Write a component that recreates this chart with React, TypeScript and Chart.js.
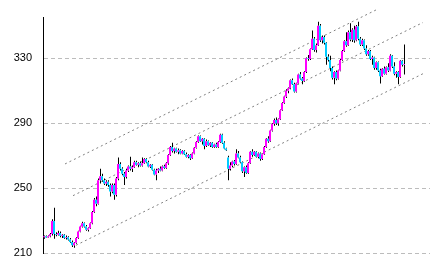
import React, { useEffect, useRef } from "react";
import { Chart, registerables } from "chart.js";

Chart.register(...registerables);

const OPEN = [
  220, 220.5, 219.8, 220.6, 222, 230, 222, 221.5, 222.5, 220.8,
  221.5, 219.5, 220, 218.5, 217, 215, 216.5, 219.5, 223.5, 226.5,
  228.5, 226.5, 224.5, 225.5, 228.5, 235.5, 243, 240.5, 255, 257.5,
  255, 253, 254, 252, 248, 252, 246, 256, 265, 262,
  259, 257, 261, 263.5, 262, 263, 266, 264.5, 265.5, 264,
  265.5, 268, 266, 263.5, 264.5, 261.5, 258.5, 261, 262, 261,
  263.5, 262.5, 265.5, 270.5, 275.5, 273, 274.5, 272.5, 273.5, 271.5,
  273, 271, 269.5, 270.5, 268.5, 271.5, 275, 278.5, 282, 279,
  280.5, 276, 279, 276.5, 278, 275.5, 277, 275.5, 278.5, 283,
  278, 274.5, 269, 262, 264, 266.5, 265, 271.5, 269, 266,
  260.5, 263, 259.5, 265.5, 272.5, 270.5, 272.5, 269.5, 271.5, 268,
  271, 275.5, 280.5, 279, 285.5, 289.5, 292, 290, 292.5, 298,
  302.5, 306.5, 310, 311.5, 316.5, 314, 309.5, 314.5, 320, 317.5,
  316, 321.5, 330, 329.5, 335.5, 342, 335, 338, 350, 341,
  343, 339.5, 331, 329, 324, 318, 321.5, 317.5, 322.5, 329,
  334.5, 340.5, 338, 346, 341.5, 347.5, 341, 349.5, 342, 338.5,
  341, 336, 332.5, 334.5, 329.5, 330.5, 324, 327.5, 322.5, 319,
  323.5, 320.5, 324.5, 322.5, 331.5, 325, 320.5, 321.5, 318.5, 328.5,
  326,
];

const HIGH = [
  221, 221, 221, 222.5, 231, 238, 223, 224, 223.5, 222,
  222, 221, 220.5, 219.5, 218, 217, 220, 224, 227, 229.5,
  229, 227.5, 226, 229, 236, 244, 245, 256, 262, 259,
  256, 255, 255, 253, 253, 253, 257, 269, 266, 263,
  260, 262, 264, 269.5, 264, 267, 267, 266, 266.5, 269,
  268.5, 268.5, 267, 265, 265, 262, 262, 262.5, 263.5, 264,
  264.5, 266, 271, 276, 278, 275, 275, 274.5, 274, 273.5,
  273.5, 272, 271, 271, 272, 275.5, 279, 282.5, 282.5, 281,
  281, 280, 279.5, 278.5, 278.5, 277.5, 278, 279, 283.5, 283.5,
  279, 275, 270, 266, 267, 267.5, 274, 273, 270, 266.5,
  263.5, 264, 266, 273, 274, 273, 273, 272, 272, 271.5,
  276, 281, 282, 286, 290, 293, 293.5, 293, 298.5, 303,
  307, 311, 312, 317, 317.5, 315, 315, 320.5, 321.5, 318.5,
  322, 330.5, 332, 336, 347, 343, 339, 352.5, 351, 344,
  344, 340, 332.5, 331.5, 325, 322, 322.5, 323, 329.5, 335,
  341, 346, 347, 351.5, 348.5, 350, 350.5, 352.5, 343, 342,
  341.5, 338, 335, 335, 331.5, 331, 328, 328, 323.5, 324,
  325, 325, 327, 332.5, 332, 327.5, 322, 322, 329, 329,
  338.5,
];

const LOW = [
  219, 219.5, 219.5, 220, 221, 219, 220.5, 221, 220, 219.5,
  219, 218.5, 218, 216.5, 214, 213.5, 216, 219, 223, 226,
  226, 224, 223.5, 225, 228, 235, 239, 240, 253, 254,
  252, 251.5, 251, 245, 247, 243, 245, 255, 261, 258,
  252, 256, 260, 261, 260, 262.5, 264, 263, 263.5, 263.5,
  265, 265.5, 263, 262.5, 261, 258, 255, 259.5, 260.5, 260.5,
  262, 262, 264.5, 270, 272, 271.5, 272, 271, 271, 271,
  270.5, 269, 268.5, 267.5, 268, 271, 274.5, 278, 278.5, 277,
  274, 275.5, 276, 275.5, 275, 275, 275, 275, 278, 277.5,
  274, 273, 255, 261, 263, 264, 264.5, 268.5, 265.5, 259.5,
  257, 259, 259, 265, 269.5, 270, 269, 268.5, 267, 267.5,
  270.5, 275, 278, 278.5, 285, 288.5, 289, 288.5, 292, 297.5,
  302, 305.5, 308.5, 311, 313.5, 309, 309, 314, 317, 314,
  315.5, 321, 328.5, 329, 335, 334, 333.5, 337.5, 340, 339,
  338.5, 326, 328, 322, 317, 314, 316.5, 317, 322, 328.5,
  334, 337, 337.5, 340.5, 340, 339.5, 340.5, 341, 337.5, 337.5,
  335, 331.5, 331.5, 329, 326, 323, 323, 321.5, 314.5, 318.5,
  320, 320, 321.5, 322, 324, 319.5, 318, 314, 318, 325,
  320,
];

const CLOSE = [
  220.5, 219.8, 220.6, 222, 230, 222, 221.5, 222.5, 220.8, 221.5,
  219.5, 220, 218.5, 217, 215, 216.5, 219.5, 223.5, 226.5, 228.5,
  226.5, 224.5, 225.5, 228.5, 235.5, 243, 240.5, 255, 257.5, 255,
  253, 254, 252, 248, 252, 246, 256, 265, 262, 259,
  257, 261, 263.5, 262, 263, 266, 264.5, 265.5, 264, 265.5,
  268, 266, 263.5, 264.5, 261.5, 258.5, 261, 262, 261, 263.5,
  262.5, 265.5, 270.5, 275.5, 273, 274.5, 272.5, 273.5, 271.5, 273,
  271, 269.5, 270.5, 268.5, 271.5, 275, 278.5, 282, 279, 280.5,
  276, 279, 276.5, 278, 275.5, 277, 275.5, 278.5, 283, 278,
  274.5, 273.5, 262, 264, 266.5, 265, 271.5, 269, 266, 260.5,
  263, 259.5, 265.5, 272.5, 270.5, 272.5, 269.5, 271.5, 268, 271,
  275.5, 280.5, 279, 285.5, 289.5, 292, 290, 292.5, 298, 302.5,
  306.5, 310, 311.5, 316.5, 314, 309.5, 314.5, 320, 317.5, 316,
  321.5, 330, 329.5, 335.5, 342, 335, 338, 350, 341, 343,
  339.5, 331, 329, 324, 318, 321.5, 317.5, 322.5, 329, 334.5,
  340.5, 338, 346, 341.5, 347.5, 341, 349.5, 342, 338.5, 341,
  336, 332.5, 334.5, 329.5, 330.5, 324, 327.5, 322.5, 319, 323.5,
  320.5, 324.5, 322.5, 331.5, 325, 320.5, 321.5, 318.5, 328.5, 326,
  326.5,
];

const Y_TICKS = [210, 250, 290, 330];
const Y_MIN = 210;
const Y_MAX = 355;
const X_MIN = -0.5;
const X_MAX = 193;
// wick axis is shifted by a quarter step so 1px wicks land on whole pixels
const WICK_SHIFT = 0.25;

const UPPER_CHANNEL = [
  { x: 10.5, y: 265 },
  { x: 166.5, y: 360 },
];
const MIDDLE_CHANNEL = [
  { x: 14.5, y: 245.5 },
  { x: 189.5, y: 352 },
];
const LOWER_CHANNEL = [
  { x: 16, y: 215 },
  { x: 189.5, y: 320.5 },
];

const UP_COLOR = "#ff00ff";
const DOWN_COLOR = "#00ccff";
const WICK_COLOR = "#000000";
const CHANNEL_COLOR = "#808080";

export default function App() {
  const canvasRef = useRef<HTMLCanvasElement | null>(null);

  useEffect(() => {
    if (!canvasRef.current) return;
    const bodies = OPEN.map((o, i) => ({ x: i, y: [o, CLOSE[i]] }));
    const bodyColors = OPEN.map((o, i) => (CLOSE[i] >= o ? UP_COLOR : DOWN_COLOR));
    const upperWicks = HIGH.map((h, i) => ({ x: i, y: [Math.max(OPEN[i], CLOSE[i]), h] }));
    const lowerWicks = LOW.map((l, i) => ({ x: i, y: [l, Math.min(OPEN[i], CLOSE[i])] }));
    const wickSet = (data: any[]) => ({
      type: "bar" as const,
      xAxisID: "xw",
      data,
      backgroundColor: WICK_COLOR,
      barThickness: 1,
      grouped: false,
      borderWidth: 0,
      inflateAmount: 0,
    });
    const channel = (data: { x: number; y: number }[]) => ({
      type: "line" as const,
      data,
      borderColor: CHANNEL_COLOR,
      borderWidth: 1,
      borderDash: [2, 3],
      pointRadius: 0,
      fill: false,
      clip: false as any,
    });

    const chart = new Chart(canvasRef.current, {
      type: "bar",
      data: {
        datasets: [
          {
            type: "bar",
            data: bodies as any,
            backgroundColor: bodyColors,
            barThickness: 2,
            grouped: false,
            borderWidth: 0,
            inflateAmount: 0,
          } as any,
          wickSet(upperWicks) as any,
          wickSet(lowerWicks) as any,
          channel(UPPER_CHANNEL) as any,
          channel(MIDDLE_CHANNEL) as any,
          channel(LOWER_CHANNEL) as any,
        ],
      },
      options: {
        animation: false,
        responsive: true,
        maintainAspectRatio: false,
        layout: { padding: { left: 0, right: 4, top: 14, bottom: 14 } },
        plugins: { legend: { display: false }, tooltip: { enabled: false } },
        scales: {
          x: {
            type: "linear",
            min: X_MIN,
            max: X_MAX,
            offset: false,
            display: false,
          },
          xw: {
            type: "linear",
            axis: "x",
            min: X_MIN - WICK_SHIFT,
            max: X_MAX - WICK_SHIFT,
            offset: false,
            display: false,
          },
          y: {
            type: "linear",
            min: Y_MIN,
            max: Y_MAX,
            afterBuildTicks: (scale: any) => {
              scale.ticks = Y_TICKS.map((v) => ({ value: v }));
            },
            afterFit: (scale: any) => {
              scale.width = 43;
            },
            grid: {
              color: "#bcbcbc",
              lineWidth: 1,
              drawTicks: false,
            },
            border: { display: true, color: "#000000", width: 1, dash: [4, 3] },
            ticks: {
              color: "#000000",
              padding: 11,
              font: { family: "'Liberation Sans', Arial, sans-serif", size: 11 },
            },
          },
        },
      } as any,
    });
    return () => chart.destroy();
  }, []);

  return (
    <div style={{ position: "fixed", left: 0, top: 0, width: 434, height: 271, background: "#fff" }}>
      <canvas ref={canvasRef} />
    </div>
  );
}
